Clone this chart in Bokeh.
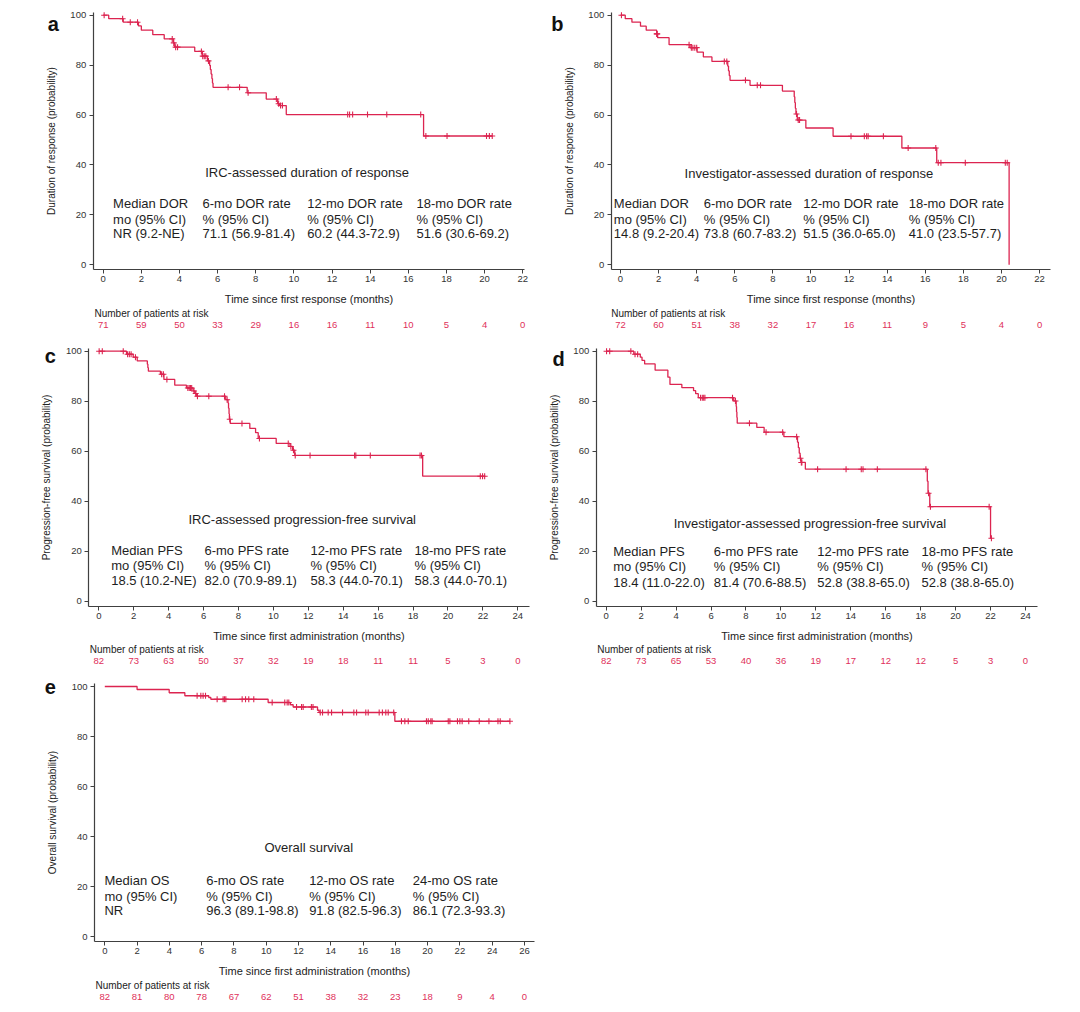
import numpy as np
from bokeh.plotting import figure
from bokeh.layouts import column, row
from bokeh.models import Range1d, FixedTicker
from bokeh.core.properties import value
from bokeh.embed import file_html
from bokeh.resources import INLINE

# ---------------- data ----------------
# Panel a: IRC-assessed DOR
a_time = [0, 0.29, 1.05, 1.85, 2.0, 2.6, 3.2, 3.68, 3.75, 4.8, 5.2, 5.47, 5.58, 5.62, 5.66, 5.7,
          5.73, 5.76, 7.55, 8.55, 9.15, 9.25, 9.6, 16.8]
a_surv = [100, 98.6, 97.2, 95.7, 94.0, 92.2, 90.5, 88.9, 87.2, 85.5, 83.6, 81.7, 79.9, 78.2, 76.4, 74.6,
          72.8, 71.1, 68.9, 66.4, 64.5, 63.8, 60.2, 51.6]
a_cens = [0.05, 1.02, 1.42, 1.8, 3.62, 3.7, 3.8, 3.9, 5.15, 5.22, 5.3, 5.38, 5.52, 6.55, 7.15, 7.6,
          9.08, 9.2, 9.3, 9.4, 12.82, 12.92, 13.08, 13.86, 14.87, 16.65, 16.92, 18.03, 20.1, 20.25, 20.4]
a_end = 20.4
a_risk = [71, 59, 50, 33, 29, 16, 16, 11, 10, 5, 4, 0]

# Panel b: investigator-assessed DOR
b_time = [0, 0.25, 0.6, 1.05, 1.35, 1.9, 1.95, 2.55, 3.65, 4.02, 4.35, 4.8, 5.63, 5.67, 5.71, 5.75,
          6.8, 8.5, 9.12, 9.15, 9.18, 9.21, 9.28, 9.73, 11.16, 14.77, 16.6, 20.4]
b_surv = [100, 98.6, 97.2, 95.6, 94.0, 92.5, 91.0, 88.2, 87.0, 85.2, 83.3, 81.5, 79.6, 77.7, 75.8, 73.9,
          71.9, 69.6, 67.3, 65.0, 62.7, 60.4, 58.0, 54.8, 51.5, 46.8, 40.9, 0]
b_cens = [0.05, 1.9, 1.93, 3.6, 3.72, 3.8, 3.9, 4.0, 5.45, 5.58, 6.56, 7.18, 7.35, 9.24, 9.33, 9.4,
          12.1, 12.8, 12.92, 13.0, 13.8, 15.1, 16.55, 16.68, 16.82, 18.1, 20.2, 20.3]
b_end = 20.4
b_risk = [72, 60, 51, 38, 32, 17, 16, 11, 9, 5, 4, 0]

# Panel c: IRC-assessed PFS
c_time = [0, 1.59, 1.97, 2.2, 2.78, 2.81, 2.84, 3.53, 3.73, 4.35, 5.02, 5.4, 5.5, 5.6, 7.27, 7.4,
          7.43, 7.46, 7.48, 7.53, 8.65, 8.98, 9.13, 10.16, 10.95, 11.1, 11.22, 18.55]
c_surv = [100, 98.8, 97.6, 96.1, 94.8, 93.4, 92.0, 90.8, 88.7, 86.4, 85.3, 84.1, 83.1, 82.0, 80.6, 79.3,
          77.2, 75.0, 72.8, 71.1, 69.1, 67.4, 65.1, 63.1, 61.9, 60.4, 58.3, 50.0]
c_cens = [0.02, 0.2, 1.4, 1.65, 1.75, 1.85, 2.1, 3.6, 3.7, 3.9, 5.1, 5.18, 5.25, 5.32, 5.45, 5.55,
          5.65, 6.3, 7.2, 7.35, 7.5, 8.2, 9.2, 10.85, 11.0, 11.15, 11.25, 12.1, 14.65, 14.72, 15.55,
          18.4, 18.48, 21.85, 21.98, 22.1]
c_end = 22.1
c_risk = [82, 73, 63, 50, 37, 32, 19, 18, 11, 11, 5, 3, 0]

# Panel d: investigator-assessed PFS
d_time = [0, 1.58, 1.95, 2.05, 2.2, 2.8, 3.53, 3.65, 4.33, 5.0, 5.12, 5.27, 7.3, 7.44, 7.46, 7.48,
          7.5, 8.62, 9.04, 10.17, 10.95, 11.0, 11.05, 11.1, 11.15, 11.4, 18.38, 18.42, 18.52, 22.0]
d_surv = [100, 98.8, 97.6, 96.3, 94.9, 92.4, 89.6, 86.7, 85.4, 84.2, 83.0, 81.4, 80.1, 77.9, 75.7, 73.5,
          71.2, 69.5, 67.6, 65.8, 63.6, 61.4, 59.2, 57.2, 55.5, 52.8, 48.0, 43.2, 37.8, 25.2]
d_cens = [0.02, 0.2, 1.41, 1.65, 1.8, 5.4, 5.5, 5.58, 5.65, 7.23, 7.4, 8.2, 9.15, 10.1, 10.9, 11.12,
          11.17, 11.2, 12.1, 13.73, 14.6, 14.7, 15.52, 18.3, 18.45, 18.56, 21.92, 22.05]
d_end = 22.05
d_risk = [82, 73, 65, 53, 40, 36, 19, 17, 12, 12, 5, 3, 0]

# Panel e: overall survival
e_time = [0, 2.0, 3.99, 4.96, 6.44, 6.57, 10.12, 11.5, 11.67, 13.18, 13.28, 17.97]
e_surv = [100, 98.8, 97.5, 96.3, 95.6, 94.9, 93.6, 92.7, 91.8, 90.5, 89.6, 86.1]
e_cens = [5.72, 5.95, 6.09, 6.24, 6.96, 7.33, 7.42, 7.5, 8.51, 8.72, 8.92, 9.23, 10.37, 11.15, 11.3,
          11.4, 11.88, 12.19, 12.29, 12.8, 12.9, 13.35, 13.49, 13.84, 14.05, 14.73, 15.43, 15.6,
          16.17, 16.32, 17.0, 17.2, 17.41, 17.56, 17.9, 18.38, 18.59, 18.8, 19.93, 20.04, 20.2,
          20.28, 21.28, 21.38, 21.85, 22.0, 22.14, 22.55, 23.2, 23.8, 24.36, 24.5, 25.1]
e_end = 25.1
e_risk = [82, 81, 80, 78, 67, 62, 51, 38, 32, 23, 18, 9, 4, 0]

# Summary tables
dor_head = ["Median DOR", "6-mo DOR rate", "12-mo DOR rate", "18-mo DOR rate"]
pfs_head = ["Median PFS", "6-mo PFS rate", "12-mo PFS rate", "18-mo PFS rate"]
os_head = ["Median OS", "6-mo OS rate", "12-mo OS rate", "24-mo OS rate"]
ci_row = ["mo (95% CI)", "% (95% CI)", "% (95% CI)", "% (95% CI)"]
a_vals = ["NR (9.2-NE)", "71.1 (56.9-81.4)", "60.2 (44.3-72.9)", "51.6 (30.6-69.2)"]
b_vals = ["14.8 (9.2-20.4)", "73.8 (60.7-83.2)", "51.5 (36.0-65.0)", "41.0 (23.5-57.7)"]
c_vals = ["18.5 (10.2-NE)", "82.0 (70.9-89.1)", "58.3 (44.0-70.1)", "58.3 (44.0-70.1)"]
d_vals = ["18.4 (11.0-22.0)", "81.4 (70.6-88.5)", "52.8 (38.8-65.0)", "52.8 (38.8-65.0)"]
e_vals = ["NR", "96.3 (89.1-98.8)", "91.8 (82.5-96.3)", "86.1 (72.3-93.3)"]

# ---------------- style ----------------
FONT = "Liberation Sans"
RED = "#dc2450"
RISK_RED = "#e0305a"
AXC = "#404040"
TXT = "#1e1e1e"


def km_panel(cfg):
    W, H = cfg["size"]
    p = figure(frame_width=W, frame_height=H,
               x_range=Range1d(*cfg["xr"]), y_range=Range1d(*cfg["yr"]),
               output_backend="svg", toolbar_location=None,
               min_border=0, min_border_left=0, min_border_right=0,
               min_border_top=0, min_border_bottom=0,
               background_fill_color="white", border_fill_color="white",
               outline_line_color=None)
    p.grid.visible = False

    x0, y0 = cfg["origin"]          # data location of the axes corner
    xa = p.xaxis[0]
    xa.ticker = FixedTicker(ticks=list(range(0, cfg["xmax"] + 1, 2)))
    xa.axis_label = cfg["xlab"]
    xa.fixed_location = y0
    xa.bounds = (x0, cfg["xend"])
    ya = p.yaxis[0]
    ya.ticker = FixedTicker(ticks=[0, 20, 40, 60, 80, 100])
    ya.axis_label = cfg["ylab"]
    ya.fixed_location = x0
    ya.bounds = (y0, cfg["ytop"])
    for ax in (xa, ya):
        ax.axis_line_color = AXC
        ax.axis_line_width = 1.2
        ax.major_tick_line_color = AXC
        ax.major_tick_out = 4
        ax.major_tick_in = 0
        ax.minor_tick_line_color = None
        ax.major_label_text_font = FONT
        ax.major_label_text_font_size = "9.5px"
        ax.major_label_text_color = "#333333"
        ax.major_label_standoff = 3
        ax.axis_label_text_font = FONT
        ax.axis_label_text_font_style = "normal"
        ax.axis_label_text_color = "#222222"
    xa.axis_label_text_font_size = "11px"
    xa.axis_label_standoff = 7
    ya.axis_label_text_font_size = "10px"
    ya.axis_label_standoff = 11

    # Kaplan-Meier step curve and censor marks
    times = np.array(cfg["time"], dtype=float)
    surv = np.array(cfg["surv"], dtype=float)
    xs = list(times) + [cfg["end"]]
    ys = list(surv) + [surv[-1]]
    p.step(xs, ys, mode="after", line_color=RED, line_width=1.3)
    cens = np.array(cfg["cens"], dtype=float)
    idx = np.searchsorted(times, cens, side="right") - 1
    p.scatter(cens, surv[idx], marker="cross", size=6, line_color=RED, line_width=1.1)

    # annotations inside the plot
    tx, ty = cfg["title_xy"]
    p.text(x=[tx], y=[ty], text=[cfg["title"]], text_font=value(FONT), text_font_size="13px",
           text_color=TXT, text_align="center", text_baseline="middle")
    for r, texts in enumerate(cfg["stats"]):
        p.text(x=cfg["cols"], y=[cfg["rows"][r]] * 4, text=texts, text_font=value(FONT),
               text_font_size="13px", text_color=TXT, text_align="left", text_baseline="middle")

    # number at risk table
    risk_t = list(range(0, cfg["xmax"] + 1, 2))
    nx, ny = cfg["npr_xy"]
    p.text(x=[nx], y=[ny], text=["Number of patients at risk"], text_font=value(FONT),
           text_font_size="10px", text_color="#222222", text_align="left", text_baseline="middle")
    p.text(x=risk_t, y=[cfg["risk_y"]] * len(risk_t), text=[str(n) for n in cfg["risk"]],
           text_font=value(FONT), text_font_size="9.5px", text_color=RISK_RED,
           text_align="center", text_baseline="middle")

    # panel letter
    lx, ly = cfg["letter_xy"]
    p.text(x=[lx], y=[ly], text=[cfg["letter"]], text_font=value(FONT), text_font_style="bold",
           text_font_size="20px", text_color="#111111", text_align="center",
           text_baseline="alphabetic")
    return p


DOR_Y = "Duration of response (probability)"
PFS_Y = "Progression-free survival (probability)"
DOR_X = "Time since first response (months)"
ADM_X = "Time since first administration (months)"

pa = km_panel(dict(letter="a", time=a_time, surv=a_surv, cens=a_cens, end=a_end, risk=a_risk,
                   size=(540, 336), xmax=22, xr=(-5.385, 22.931), yr=(-28.726, 105.889),
                   origin=(-0.524, -1.883), xend=22.08, ytop=100.96,
                   ylab=DOR_Y, xlab=DOR_X, title="IRC-assessed duration of response",
                   title_xy=(10.69, 36.85), cols=[0.52, 5.21, 10.70, 16.43], rows=[24.7, 18.3, 12.4],
                   stats=[dor_head, ci_row, a_vals], npr_xy=(-0.456, -19.5), risk_y=-24.3,
                   letter_xy=(-2.62, 96.3)))
pb = km_panel(dict(letter="b", time=b_time, surv=b_surv, cens=b_cens, end=b_end, risk=b_risk,
                   size=(540, 336), xmax=22, xr=(-4.199, 24.147), yr=(-28.726, 105.889),
                   origin=(-0.488, -1.883), xend=22.55, ytop=100.96,
                   ylab=DOR_Y, xlab=DOR_X, title="Investigator-assessed duration of response",
                   title_xy=(9.89, 36.7), cols=[-0.35, 4.37, 9.59, 15.13], rows=[24.7, 18.3, 12.4],
                   stats=[dor_head, ci_row, b_vals], npr_xy=(-0.488, -19.6), risk_y=-24.3,
                   letter_xy=(-3.31, 96.3)))
pc = km_panel(dict(letter="c", time=c_time, surv=c_surv, cens=c_cens, end=c_end, risk=c_risk,
                   size=(540, 336), xmax=24, xr=(-5.630, 25.298), yr=(-28.52, 105.88),
                   origin=(-0.573, -2.0), xend=24.67, ytop=101.2,
                   ylab=PFS_Y, xlab=ADM_X, title="IRC-assessed progression-free survival",
                   title_xy=(11.65, 32.5), cols=[0.71, 6.05, 12.12, 18.08], rows=[20.3, 14.3, 8.3],
                   stats=[pfs_head, ci_row, c_vals], npr_xy=(-0.515, -19.44), risk_y=-24.1,
                   letter_xy=(-2.77, 98.0)))
pd_ = km_panel(dict(letter="d", time=d_time, surv=d_surv, cens=d_cens, end=d_end, risk=d_risk,
                    size=(540, 336), xmax=24, xr=(-3.761, 27.149), yr=(-28.52, 105.88),
                    origin=(-0.572, -2.0), xend=24.67, ytop=101.2,
                    ylab=PFS_Y, xlab=ADM_X, title="Investigator-assessed progression-free survival",
                    title_xy=(11.66, 31.2), cols=[0.40, 6.16, 12.08, 18.05], rows=[19.9, 13.9, 7.6],
                    stats=[pfs_head, ci_row, d_vals], npr_xy=(-0.515, -19.44), risk_y=-24.1,
                    letter_xy=(-2.73, 96.96)))
pe = km_panel(dict(letter="e", time=e_time, surv=e_surv, cens=e_cens, end=e_end, risk=e_risk,
                   size=(540, 340), xmax=26, xr=(-6.462, 26.995), yr=(-30.4, 105.6),
                   origin=(-0.638, -1.88), xend=26.62, ytop=101.1,
                   ylab="Overall survival (probability)", xlab=ADM_X, title="Overall survival",
                   title_xy=(12.64, 35.7), cols=[-0.02, 6.28, 12.66, 19.08], rows=[22.4, 16.1, 10.4],
                   stats=[os_head, ci_row, e_vals], npr_xy=(-0.576, -19.6), risk_y=-24.3,
                   letter_xy=(-3.38, 99.7)))

layout = column(row(pa, pb), row(pc, pd_), row(pe))
open("out.html", "w").write(file_html(layout, INLINE))
